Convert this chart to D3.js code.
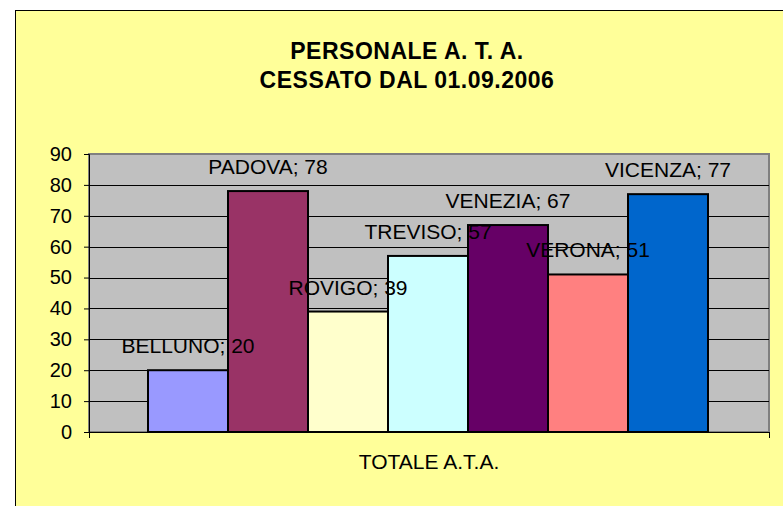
<!DOCTYPE html>
<html>
<head>
<meta charset="utf-8">
<style>
body { margin: 0; background: #fff; }
text { font-family: "Liberation Sans", Arial, sans-serif; fill: #000; }
.title { font-weight: bold; font-size: 23px; letter-spacing: 0.5px; }
.tick text { font-size: 20px; font-family: "Liberation Sans", Arial, sans-serif; }
.lbl { font-size: 21px; }
</style>
</head>
<body>
<svg width="783" height="506"></svg>
<script src="https://d3js.org/d3.v7.min.js"></script>
<script>
var provinces = ["BELLUNO", "PADOVA", "ROVIGO", "TREVISO", "VENEZIA", "VERONA", "VICENZA"];
var values = [20, 78, 39, 57, 67, 51, 77];
var colors = ["#9999FF", "#993366", "#FFFFCC", "#CCFFFF", "#660066", "#FF8080", "#0066CC"];
var yTicks = [0, 10, 20, 30, 40, 50, 60, 70, 80, 90];
var category = "TOTALE A.T.A.";
var titleLines = ["PERSONALE A. T. A.", "CESSATO DAL 01.09.2006"];

var svg = d3.select("svg");

// chart area
svg.append("rect")
  .attr("x", 15.5).attr("y", 10.5)
  .attr("width", 800).attr("height", 520)
  .attr("fill", "#FFFF99")
  .attr("stroke", "#000").attr("stroke-width", 1);

var pLeft = 89, pRight = 769, pTop = 154, pBottom = 432;

var y = d3.scaleLinear().domain([0, 90]).range([pBottom, pTop]);
var x = d3.scaleBand().domain(provinces).range([148, 708]).padding(0);

// plot background
svg.append("rect")
  .attr("x", pLeft).attr("y", pTop)
  .attr("width", pRight - pLeft).attr("height", pBottom - pTop)
  .attr("fill", "#C0C0C0")
  .attr("stroke", "#808080").attr("stroke-width", 2);

// gridlines
svg.append("g").selectAll("line")
  .data(yTicks.filter(function(d) { return d > 0 && d < 90; }))
  .enter().append("line")
  .attr("x1", pLeft).attr("x2", pRight)
  .attr("y1", function(d) { return Math.round(y(d)) + 0.5; })
  .attr("y2", function(d) { return Math.round(y(d)) + 0.5; })
  .attr("stroke", "#000").attr("stroke-width", 1);

// y axis
var yAxis = svg.append("g")
  .attr("transform", "translate(" + pLeft + ",0)")
  .call(d3.axisLeft(y).tickValues(yTicks).tickSize(5).tickPadding(12));
yAxis.select(".domain").attr("stroke", "#000");
yAxis.selectAll(".tick line").attr("stroke", "#000");
yAxis.selectAll(".tick text").attr("fill", "#000");

// x axis line with end ticks
svg.append("line")
  .attr("x1", pLeft).attr("x2", pRight)
  .attr("y1", pBottom + 0.5).attr("y2", pBottom + 0.5)
  .attr("stroke", "#000");
[pLeft, pRight].forEach(function(px) {
  svg.append("line")
    .attr("x1", px + 0.5).attr("x2", px + 0.5)
    .attr("y1", pBottom).attr("y2", pBottom + 6)
    .attr("stroke", "#000");
});

// bars
svg.append("g").selectAll("rect")
  .data(values)
  .enter().append("rect")
  .attr("x", function(d, i) { return x(provinces[i]); })
  .attr("y", function(d) { return y(d); })
  .attr("width", x.bandwidth())
  .attr("height", function(d) { return pBottom - y(d); })
  .attr("fill", function(d, i) { return colors[i]; })
  .attr("stroke", "#000").attr("stroke-width", 2);

// data labels
svg.append("g").selectAll("text")
  .data(values)
  .enter().append("text")
  .attr("class", "lbl")
  .attr("x", function(d, i) { return x(provinces[i]) + x.bandwidth() / 2; })
  .attr("y", function(d) { return y(d) - 17; })
  .attr("text-anchor", "middle")
  .text(function(d, i) { return provinces[i] + "; " + d; });

// category label
svg.append("text")
  .attr("class", "lbl")
  .attr("x", (pLeft + pRight) / 2).attr("y", 469)
  .attr("text-anchor", "middle")
  .text(category);

// title
svg.append("g").selectAll("text")
  .data(titleLines)
  .enter().append("text")
  .attr("class", "title")
  .attr("x", 407)
  .attr("y", function(d, i) { return 59 + i * 29; })
  .attr("text-anchor", "middle")
  .text(function(d) { return d; });
</script>
</body>
</html>
